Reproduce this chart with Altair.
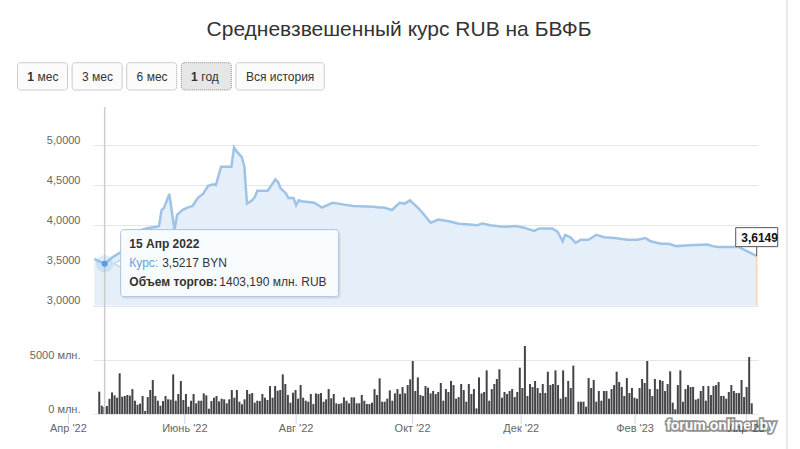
import altair as alt
import pandas as pd

# ---------------------------------------------------------------- data
TITLE = "Средневзвешенный курс RUB на БВФБ"
RANGE_BUTTONS = ["1 мес", "3 мес", "6 мес", "1 год", "Вся история"]
ACTIVE_BUTTON = "1 год"
WATERMARK = "forum.onliner.by"

FIRST_DAY = "2022-04-11"
LAST_DAY = "2023-04-07"
HOLIDAYS = ["2022-05-03", "2022-05-09", "2022-11-07"]

# daily trading volume, mln RUB (one value per trading day)
VOLUME = [
    2070, 770, 650, 740, 1403.19, 2000, 1730, 1510, 3770, 1600,
    1670, 1760, 1700, 2310, 1230, 860, 960, 1670, 280, 1570,
    2220, 3150, 1670, 1230, 770, 1200, 1670, 1360, 1330, 3670,
    1230, 1850, 3060, 1300, 1850, 680, 1230, 1850, 990, 1230,
    1230, 1910, 1730, 490, 1200, 1510, 1670, 1170, 1420, 1360,
    990,
    1360, 2220, 1510, 2220, 1140, 900, 1360, 2220, 1850, 1940,
    1050, 1230, 1200, 1850, 1510, 1300, 2590, 1510, 2590, 2160,
    2220, 3670, 2780, 1760, 1050, 1970, 2220, 1420, 2680, 1510,
    1230, 1140, 1850, 930, 1910, 1850, 1940, 1140, 1360, 2310,
    1450, 1850, 990, 930, 990, 1540, 1230, 990, 1540, 1540,
    990,
    990, 1760, 1230, 930, 930, 1050, 2310, 1760, 3300, 1140,
    1140, 1420, 2190, 1230, 1910, 2310, 1850, 2500, 1910, 2680,
    3210, 4910, 2130, 3390, 1760, 1670, 2590, 2440, 1910, 2130,
    1850, 2040, 2870, 1230, 2310, 2040, 3060, 2680, 1420, 1570,
    2780, 2220, 1140, 2780, 1850, 2310, 520, 3390, 1910, 2040,
    4040,
    1230, 2310, 2780, 3240, 4140, 1510, 2040, 1850, 2130, 2310,
    1570, 2040, 4290, 2410, 6300, 1670, 2780, 2500, 3060, 2410,
    1940, 2780, 1940, 3920, 2680, 2780, 4040, 2680, 1420, 4040,
    1570, 3060, 2410, 4480, 0, 1140, 1140, 1140, 680, 3330,
    2410, 3150, 1140, 2130, 1230, 2130, 2130, 1420, 2310, 2680,
    3920,
    2960, 2500, 1670, 3330, 1940, 2410, 1510, 1420, 2410, 3240,
    2870, 4910, 2310, 1670, 3240, 2310, 3150, 3060, 2130, 2780,
    3950, 1050, 430, 2680, 4040, 1140, 2310, 2680, 2500, 2500,
    1330, 1420, 2130, 2590, 1230, 2590, 1760, 2590, 2680, 2960,
    1670, 1670, 1420, 2040, 2680, 2130, 1940, 1940, 3150, 1570,
    2500, 5280, 990,
]

# weighted average RUB rate, BYN per 100 RUB
RATE_DATES = [
    "2022-04-11", "2022-04-13", "2022-04-15", "2022-04-20", "2022-04-25",
    "2022-04-29", "2022-05-06", "2022-05-11", "2022-05-17", "2022-05-18",
    "2022-05-19", "2022-05-20", "2022-05-24", "2022-05-26", "2022-05-27",
    "2022-05-31", "2022-06-02", "2022-06-06", "2022-06-08", "2022-06-10",
    "2022-06-14", "2022-06-16", "2022-06-17", "2022-06-21", "2022-06-27",
    "2022-06-28", "2022-06-29", "2022-07-01", "2022-07-04", "2022-07-05",
    "2022-07-07", "2022-07-08", "2022-07-11", "2022-07-15", "2022-07-20",
    "2022-07-21", "2022-07-22", "2022-07-26", "2022-07-27", "2022-07-29",
    "2022-08-01", "2022-08-02", "2022-08-03", "2022-08-10", "2022-08-15",
    "2022-08-19", "2022-08-25", "2022-08-31", "2022-09-12", "2022-09-14",
    "2022-09-16", "2022-09-21", "2022-09-26", "2022-09-28", "2022-09-30",
    "2022-10-05", "2022-10-07", "2022-10-12", "2022-10-17", "2022-10-21",
    "2022-10-27", "2022-11-02", "2022-11-08", "2022-11-10", "2022-11-15",
    "2022-11-22", "2022-11-29", "2022-12-02", "2022-12-08", "2022-12-12",
    "2022-12-19", "2022-12-21", "2022-12-23", "2022-12-26", "2022-12-28",
    "2022-12-30", "2023-01-03", "2023-01-06", "2023-01-11", "2023-01-16",
    "2023-01-20", "2023-01-27", "2023-02-02", "2023-02-07", "2023-02-09",
    "2023-02-15", "2023-02-20", "2023-02-23", "2023-03-02", "2023-03-13",
    "2023-03-15", "2023-03-17", "2023-03-29", "2023-04-03", "2023-04-05",
    "2023-04-07",
]
RATE_VALUES = [
    3.58, 3.55, 3.5217, 3.60, 3.66,
    3.80, 3.94, 3.96, 3.98, 3.99,
    4.19, 4.22, 4.39, 3.94, 4.13,
    4.19, 4.22, 4.24, 4.34, 4.39,
    4.49, 4.51, 4.50, 4.73, 4.73,
    4.97, 4.92, 4.85, 4.73, 4.27,
    4.31, 4.35, 4.43, 4.43, 4.57,
    4.54, 4.46, 4.40, 4.34, 4.34,
    4.25, 4.31, 4.30, 4.28, 4.22,
    4.28, 4.26, 4.24, 4.23, 4.22,
    4.22, 4.19, 4.28, 4.27, 4.31,
    4.22, 4.15, 4.03, 4.07, 4.05,
    4.02, 4.01, 4.00, 4.02, 4.00,
    3.98, 3.99, 3.97, 3.93, 3.96,
    3.96, 3.92, 3.80, 3.88, 3.85,
    3.78, 3.82, 3.82, 3.88, 3.85,
    3.84, 3.82, 3.82, 3.84, 3.80,
    3.77, 3.77, 3.74, 3.75, 3.76,
    3.74, 3.73, 3.73, 3.68, 3.65,
    3.6149,
]

MONTH_DATES = ["2022-04-01", "2022-06-01", "2022-08-01", "2022-10-01",
               "2022-12-01", "2023-02-01", "2023-04-01"]
MONTH_LABELS = ["Апр '22", "Июнь '22", "Авг '22", "Окт '22",
                "Дек '22", "Фев '23", "Апр '23"]
MONTH_SHORT = ["Янв", "Фев", "Мар", "Апр", "Май", "Июн",
               "Июл", "Авг", "Сен", "Окт", "Ноя", "Дек"]

HOVER_DATE = "2022-04-15"

RATE_TICKS = [3.0, 3.5, 4.0, 4.5, 5.0]
VOLUME_TICKS = [0, 5000]

# ---------------------------------------------------------------- layout
FONT = "Liberation Sans"
W, H = 665, 307                      # plot area (both panes)
PAD = {"left": 93, "top": 107, "right": 42, "bottom": 35}
RATE_RANGE = [198.5, 38]             # pixel span of the rate pane for 3..5
VOL_RANGE = [H, 253]                 # pixel span of the volume pane for 0..5000

LINE_COLOR = "#9fc3e7"
AREA_COLOR = "#e5eff9"
BAR_COLOR = "#434348"
LABEL_COLOR = "#666666"
GRID_COLOR = "#e6e6e6"


def comma(value, digits):
    return f"{value:.{digits}f}".replace(".", ",")


# ---------------------------------------------------------------- frames
days = pd.bdate_range(FIRST_DAY, LAST_DAY)
days = days[~days.isin(pd.to_datetime(HOLIDAYS))]
n = min(len(days), len(VOLUME))
days = days[:n]


def to_idx(d):
    """Position on the trading-day (ordinal) axis."""
    d = pd.Timestamp(d)
    if d < days[0]:
        return (d - days[0]).days
    return int(days.searchsorted(d))


vol_df = pd.DataFrame({"idx": list(range(n)), "vol": VOLUME[:n]})

rate_df = pd.DataFrame({"date": pd.to_datetime(RATE_DATES), "rate": RATE_VALUES})
rate_df["idx"] = [to_idx(d) for d in rate_df["date"]]
rate_df = rate_df.drop(columns="date")

hd = pd.Timestamp(HOVER_DATE)
h_idx = to_idx(hd)
h_rate = RATE_VALUES[RATE_DATES.index(HOVER_DATE)]
h_vol = VOLUME[h_idx]
hover_df = pd.DataFrame({
    "idx": [h_idx],
    "rate": [h_rate],
    "date_label": [f"{hd.day} {MONTH_SHORT[hd.month - 1]} {hd.year}"],
    "rate_text": [comma(h_rate, 4) + " BYN"],
    "vol_text": [comma(h_vol, 3) + " млн. RUB"],
})

last_df = pd.DataFrame({
    "idx": [to_idx(RATE_DATES[-1])],
    "rate": [RATE_VALUES[-1]],
    "label": [comma(RATE_VALUES[-1], 4)],
})

month_df = pd.DataFrame({
    "idx": [to_idx(d) for d in MONTH_DATES],
    "label": MONTH_LABELS,
})

# range selector buttons, laid out from their label lengths
rows = []
bx = 17.5 - PAD["left"]
for lab in RANGE_BUTTONS:
    w = 18 + 6.4 * len(lab)
    head, _, tail = lab.partition(" ")
    numeric = head.isdigit()
    rows.append({
        "x0": bx, "x1": bx + w, "cx": bx + w / 2,
        "y0": 62.7 - PAD["top"], "y1": 90 - PAD["top"], "cy": 76.5 - PAD["top"],
        "full": "" if numeric else lab,
        "prefix": head if numeric else "",
        "suffix": tail if numeric else "",
        "bold": head == "1",
        "active": lab == ACTIVE_BUTTON,
    })
    bx += w + 4.6
btn_df = pd.DataFrame(rows)

# ---------------------------------------------------------------- encodings
x_scale = alt.Scale(domain=[-0.5, n - 0.5], nice=False, zero=False)
rate_scale = alt.Scale(domain=[3, 5], range=RATE_RANGE, nice=False, zero=False)
vol_scale = alt.Scale(domain=[0, 5000], range=VOL_RANGE, nice=False, zero=False)

X = alt.X("idx:Q", scale=x_scale, axis=None)
X2 = alt.X2("idx:Q")

rate_axis = alt.Axis(
    values=RATE_TICKS, orient="left", title=None,
    labelExpr="replace(format(datum.value, '.4f'), '.', ',')",
    domain=False, ticks=False, tickSize=0, labelPadding=13,
    grid=True, gridColor=GRID_COLOR, gridWidth=1,
    labelFont=FONT, labelFontSize=11, labelColor=LABEL_COLOR,
    labelBaseline="alphabetic", labelOffset=-2,
)
vol_axis = alt.Axis(
    values=VOLUME_TICKS, orient="left", title=None,
    labelExpr="datum.value + ' млн.'",
    domain=False, ticks=False, tickSize=0, labelPadding=13,
    grid=True, gridColor=GRID_COLOR, gridWidth=1,
    labelFont=FONT, labelFontSize=11, labelColor=LABEL_COLOR,
    labelBaseline="alphabetic", labelOffset=-2,
)


def rate_y(axis=None):
    return alt.Y("rate:Q", scale=rate_scale, axis=axis)


# ---------------------------------------------------------------- rate pane
# the axis and gridlines of the rate pane come from a layer of their own
rate_grid = alt.Chart(rate_df).mark_point(opacity=0, size=0).encode(
    x=X, y=rate_y(rate_axis))
area = alt.Chart(rate_df).mark_area(color=AREA_COLOR, interpolate="linear").encode(
    x=X, y=rate_y(), y2=alt.datum(3))
line = alt.Chart(rate_df).mark_line(color=LINE_COLOR, strokeWidth=2.5).encode(
    x=X, y=rate_y())

last_drop = alt.Chart(last_df).mark_rule(color="#f7d2b6", strokeWidth=1.5).encode(
    x=X, y=rate_y(), y2=alt.datum(3))
last_stem = alt.Chart(last_df).mark_rule(color="#555555", strokeWidth=1, yOffset=-9.5).encode(
    x=X, y=rate_y(), y2=alt.Y2("rate:Q"))
last_box = alt.Chart(last_df).mark_rect(
    fill="white", stroke="#555555", strokeWidth=1,
    xOffset=-21, x2Offset=21, yOffset=-28.5, y2Offset=-9.5,
).encode(x=X, x2=X2, y=rate_y(), y2=alt.Y2("rate:Q"))
last_text = alt.Chart(last_df).mark_text(
    align="left", baseline="alphabetic", dx=-15.5, dy=-14.5,
    font=FONT, fontSize=12, fontWeight="bold", color="#111111",
).encode(x=X, y=rate_y(), text="label:N")

rate_marks = alt.layer(area, line, last_drop, last_stem, last_box, last_text)

# ---------------------------------------------------------------- volume pane
bars = alt.Chart(vol_df).mark_bar(size=2, color=BAR_COLOR).encode(
    x=X, y=alt.Y("vol:Q", scale=vol_scale, axis=vol_axis), y2=alt.datum(0))

# month ticks and labels of the ordinal time axis
m_ticks = alt.Chart(month_df).mark_rule(color="#ccd6eb", strokeWidth=1).encode(
    x=X, y=alt.value(H), y2=alt.value(H + 10))
m_text = alt.Chart(month_df).mark_text(
    font=FONT, fontSize=11, color=LABEL_COLOR, baseline="middle", align="center",
).encode(x=X, y=alt.value(H + 15), text="label:N")

# ---------------------------------------------------------------- hover state
cross = alt.Chart(hover_df).mark_rule(color="#cccccc", strokeWidth=1.5).encode(
    x=X, y=alt.value(0), y2=alt.value(H))
halo = alt.Chart(hover_df).mark_circle(size=300, color="#7cb5ec", opacity=0.25).encode(
    x=X, y=rate_y())
dot = alt.Chart(hover_df).mark_circle(size=36, color="#5d9bd8", opacity=1).encode(
    x=X, y=rate_y())
tip_shadow = alt.Chart(hover_df).mark_rect(
    color="#000000", opacity=0.07, cornerRadius=3,
    xOffset=17, x2Offset=236, yOffset=-32, y2Offset=35,
).encode(x=X, x2=X2, y=rate_y(), y2=alt.Y2("rate:Q"))
tip_arrow = alt.Chart(hover_df).mark_point(
    shape="triangle-left", filled=True, fill="#fafcfe", stroke="#a9c4df",
    strokeWidth=1, size=110, opacity=1, xOffset=14,
).encode(x=X, y=rate_y())
tip_box = alt.Chart(hover_df).mark_rect(
    fill="#fafcfe", fillOpacity=0.95, stroke="#a9c4df", strokeWidth=1, cornerRadius=3,
    xOffset=16, x2Offset=234, yOffset=-34, y2Offset=33,
).encode(x=X, x2=X2, y=rate_y(), y2=alt.Y2("rate:Q"))


def tip_text(field, dx, dy, color="#333333", weight="normal", text=None):
    mark = alt.Chart(hover_df).mark_text(
        align="left", baseline="alphabetic", dx=dx, dy=dy,
        font=FONT, fontSize=12, fontWeight=weight, color=color,
        **({"text": text} if text is not None else {}),
    )
    enc = {"x": X, "y": rate_y()}
    if field is not None:
        enc["text"] = f"{field}:N"
    return mark.encode(**enc)


tip_l1 = tip_text("date_label", 24.7, -15.6, weight="bold")
tip_l2a = tip_text(None, 24.7, 3.4, color="#6a9fd6", text="Курс:")
tip_l2b = tip_text("rate_text", 57.5, 3.4)
tip_l3a = tip_text(None, 24.7, 22.4, weight="bold", text="Объем торгов:")
tip_l3b = tip_text("vol_text", 114.7, 22.4)

hover = alt.layer(cross, halo, dot, tip_shadow, tip_arrow, tip_box,
                  tip_l1, tip_l2a, tip_l2b, tip_l3a, tip_l3b)

# ---------------------------------------------------------------- chrome
title = alt.Chart(pd.DataFrame({"t": [TITLE]})).mark_text(
    font=FONT, fontSize=21, color="#333333", align="center", baseline="middle",
).encode(x=alt.value(399 - PAD["left"]), y=alt.value(30 - PAD["top"]), text="t:N")

PX = dict(scale=None)
btn_plain = alt.Chart(btn_df).transform_filter("!datum.active").mark_rect(
    fill="#fbfbfb", stroke="#cccccc", strokeWidth=1, cornerRadius=3,
).encode(x=alt.X("x0:Q", **PX), x2="x1:Q", y=alt.Y("y0:Q", **PX), y2="y1:Q")
btn_active = alt.Chart(btn_df).transform_filter("datum.active").mark_rect(
    fill="#e6e6e6", stroke="#8a8a8a", strokeWidth=1, strokeDash=[1, 1], cornerRadius=3,
).encode(x=alt.X("x0:Q", **PX), x2="x1:Q", y=alt.Y("y0:Q", **PX), y2="y1:Q")
btn_full = alt.Chart(btn_df).mark_text(
    font=FONT, fontSize=12, color="#333333", align="center", baseline="middle",
).encode(x=alt.X("cx:Q", **PX), y=alt.Y("cy:Q", **PX), text="full:N")
btn_prefix_b = alt.Chart(btn_df).transform_filter("datum.bold").mark_text(
    font=FONT, fontSize=12, fontWeight="bold", color="#333333", align="right",
    baseline="middle", dx=-8.5,
).encode(x=alt.X("cx:Q", **PX), y=alt.Y("cy:Q", **PX), text="prefix:N")
btn_prefix_n = alt.Chart(btn_df).transform_filter("!datum.bold").mark_text(
    font=FONT, fontSize=12, color="#333333", align="right",
    baseline="middle", dx=-8.5,
).encode(x=alt.X("cx:Q", **PX), y=alt.Y("cy:Q", **PX), text="prefix:N")
btn_suffix = alt.Chart(btn_df).mark_text(
    font=FONT, fontSize=12, color="#333333", align="left", baseline="middle", dx=-5,
).encode(x=alt.X("cx:Q", **PX), y=alt.Y("cy:Q", **PX), text="suffix:N")

page_edge = alt.Chart(pd.DataFrame({"k": [0]})).mark_rule(color="#d6d6d6", strokeWidth=1).encode(
    x=alt.value(787 - PAD["left"]), y=alt.value(-PAD["top"]), y2=alt.value(H + PAD["bottom"]))

wm_df = pd.DataFrame({"t": [WATERMARK]})
wm_shadow = alt.Chart(wm_df).mark_text(
    font=FONT, fontSize=14, fontWeight="bold", fill="#3a3a3a", stroke="#3a3a3a",
    strokeWidth=3.5, opacity=0.55, align="center", baseline="middle",
).encode(x=alt.value(721 - PAD["left"]), y=alt.value(426 - PAD["top"]), text="t:N")
wm_text = alt.Chart(wm_df).mark_text(
    font=FONT, fontSize=14, fontWeight="bold", color="#ffffff",
    align="center", baseline="middle",
).encode(x=alt.value(721 - PAD["left"]), y=alt.value(426 - PAD["top"]), text="t:N")

chrome = alt.layer(title, btn_plain, btn_active, btn_full, btn_prefix_b,
                   btn_prefix_n, btn_suffix, page_edge)

chart = alt.layer(
    rate_grid, rate_marks, bars, m_ticks, m_text, hover, chrome, wm_shadow, wm_text,
).resolve_scale(
    x="independent", y="independent",
).properties(
    width=W, height=H,
    autosize=alt.AutoSizeParams(type="none"),
    padding=PAD,
    background="white",
).configure_view(stroke=None)

chart.save("out.html", embed_options={"renderer": "svg", "actions": False})
